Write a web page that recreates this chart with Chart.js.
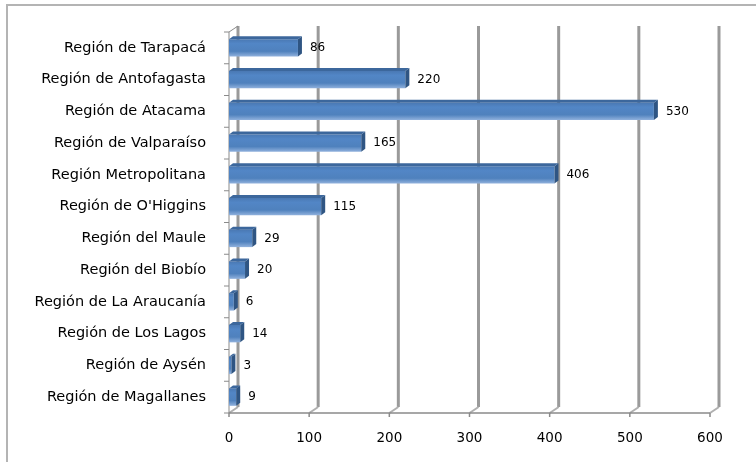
<!DOCTYPE html>
<html>
<head>
<meta charset="utf-8">
<script src="https://cdn.jsdelivr.net/npm/chart.js@4/dist/chart.umd.min.js"></script>
<style>
  html, body { margin: 0; padding: 0; background: #fff; }
  #wrap { width: 756px; height: 462px; position: relative; }
</style>
</head>
<body>
<div id="wrap"><canvas id="regionChart" width="756" height="462"></canvas></div>
<script>
const regions = [
  'Región de Tarapacá', 'Región de Antofagasta', 'Región de Atacama', 'Región de Valparaíso',
  'Región Metropolitana', "Región de O'Higgins", 'Región del Maule', 'Región del Biobío',
  'Región de La Araucanía', 'Región de Los Lagos', 'Región de Aysén', 'Región de Magallanes'
];
const counts = [86, 220, 530, 165, 406, 115, 29, 20, 6, 14, 3, 9];
const xTicks = [0, 100, 200, 300, 400, 500, 600];

// ===== 3D-ish frame: outer border, back wall grid, floor =====
const frame3d = {
  id: 'frame3d',
  beforeDraw(chart) {
    const ctx = chart.ctx;
    ctx.save();
    ctx.strokeStyle = '#b4b4b4';
    ctx.lineWidth = 2;
    ctx.strokeRect(7, 5, 780, 480);
    ctx.restore();
  },
  beforeDatasetsDraw(chart) {
    const { ctx, chartArea, scales } = chart;
    const dx = 9, dy = 6;
    const top = chartArea.top - dy, bot = chartArea.bottom;
    ctx.save();
    // back gridlines
    xTicks.forEach(v => {
      const x = scales.x.getPixelForValue(v);
      ctx.strokeStyle = '#9a9a9a';
      ctx.lineWidth = 3;
      ctx.beginPath();
      ctx.moveTo(x + dx, top);
      ctx.lineTo(x + dx, bot - dy);
      ctx.stroke();
      // floor slant
      ctx.strokeStyle = '#b0b0b0';
      ctx.lineWidth = 2;
      ctx.beginPath();
      ctx.moveTo(x + dx, bot - dy);
      ctx.lineTo(x, bot);
      ctx.stroke();
    });
    // left wall
    const x0 = scales.x.getPixelForValue(0);
    ctx.strokeStyle = '#8a8a8a';
    ctx.lineWidth = 1;
    ctx.beginPath();
    ctx.moveTo(x0, top + dy);
    ctx.lineTo(x0, bot);
    ctx.moveTo(x0, top + dy);
    ctx.lineTo(x0 + dx, top);
    ctx.stroke();
    // category ticks on wall
    const step = (chartArea.bottom - chartArea.top) / regions.length;
    for (let i = 0; i <= regions.length; i++) {
      const y = chartArea.top + step * i;
      ctx.beginPath();
      ctx.moveTo(x0 - 5, y);
      ctx.lineTo(x0, y);
      ctx.stroke();
    }
    // floor front edge
    ctx.strokeStyle = '#8a8a8a';
    ctx.lineWidth = 1.5;
    ctx.beginPath();
    ctx.moveTo(x0, bot);
    ctx.lineTo(scales.x.getPixelForValue(600), bot);
    ctx.stroke();
    xTicks.forEach(v => {
      const x = scales.x.getPixelForValue(v);
      ctx.beginPath();
      ctx.moveTo(x, bot);
      ctx.lineTo(x, bot + 4);
      ctx.stroke();
    });
    ctx.restore();
  },
  afterDatasetsDraw(chart) {
    const ctx = chart.ctx;
    const meta = chart.getDatasetMeta(0);
    ctx.save();
    meta.data.forEach((bar, i) => {
      const h = bar.height;
      const yTop = bar.y - h / 2, yBot = bar.y + h / 2;
      // side face
      ctx.fillStyle = '#2f5583';
      ctx.beginPath();
      ctx.moveTo(bar.x, yTop);
      ctx.lineTo(bar.x + 4, yTop - 3);
      ctx.lineTo(bar.x + 4, yBot - 3);
      ctx.lineTo(bar.x, yBot);
      ctx.closePath();
      ctx.fill();
      // top face
      ctx.fillStyle = '#3c679c';
      ctx.beginPath();
      ctx.moveTo(bar.base, yTop);
      ctx.lineTo(bar.base + 4, yTop - 3);
      ctx.lineTo(bar.x + 4, yTop - 3);
      ctx.lineTo(bar.x, yTop);
      ctx.closePath();
      ctx.fill();
      // value label
      ctx.fillStyle = '#000';
      ctx.font = '12px "DejaVu Sans", sans-serif';
      ctx.textBaseline = 'middle';
      ctx.textAlign = 'left';
      ctx.fillText(String(counts[i]), bar.x + 12, bar.y);
    });
    ctx.restore();
  }
};

function barGradient(context) {
  const chart = context.chart;
  const ys = chart.scales && chart.scales.y;
  if (!chart.chartArea || !ys || context.dataIndex === undefined) return '#4f81bd';
  const cy = ys.getPixelForValue(context.dataIndex);
  if (!isFinite(cy)) return '#4f81bd';
  const h = 17;
  const g = chart.ctx.createLinearGradient(0, cy - h / 2, 0, cy + h / 2);
  g.addColorStop(0, '#4a79b4');
  g.addColorStop(0.25, '#5286c6');
  g.addColorStop(0.7, '#4f81bd');
  g.addColorStop(1, '#8fb0dc');
  return g;
}

new Chart(document.getElementById('regionChart'), {
  type: 'bar',
  data: {
    labels: regions,
    datasets: [{
      data: counts,
      backgroundColor: barGradient,
      borderWidth: 0,
      barPercentage: 0.55,
      categoryPercentage: 1
    }]
  },
  options: {
    indexAxis: 'y',
    responsive: false,
    animation: false,
    layout: { padding: { top: 32, right: 46, left: 0, bottom: 0 } },
    plugins: { legend: { display: false }, tooltip: { enabled: false } },
    scales: {
      x: {
        min: 0, max: 600,
        afterBuildTicks: s => { s.ticks = xTicks.map(v => ({ value: v })); },
        afterFit: s => { s.height = 49; },
        grid: { display: false, drawTicks: false },
        border: { display: false },
        ticks: { color: '#000', padding: 17, font: { family: 'DejaVu Sans', size: 13.5 } }
      },
      y: {
        afterFit: s => { s.width = 229; },
        grid: { display: false, drawTicks: false },
        border: { display: false },
        ticks: { color: '#000', padding: 23, font: { family: 'DejaVu Sans', size: 14.5 } }
      }
    }
  },
  plugins: [frame3d]
});
</script>
</body>
</html>
